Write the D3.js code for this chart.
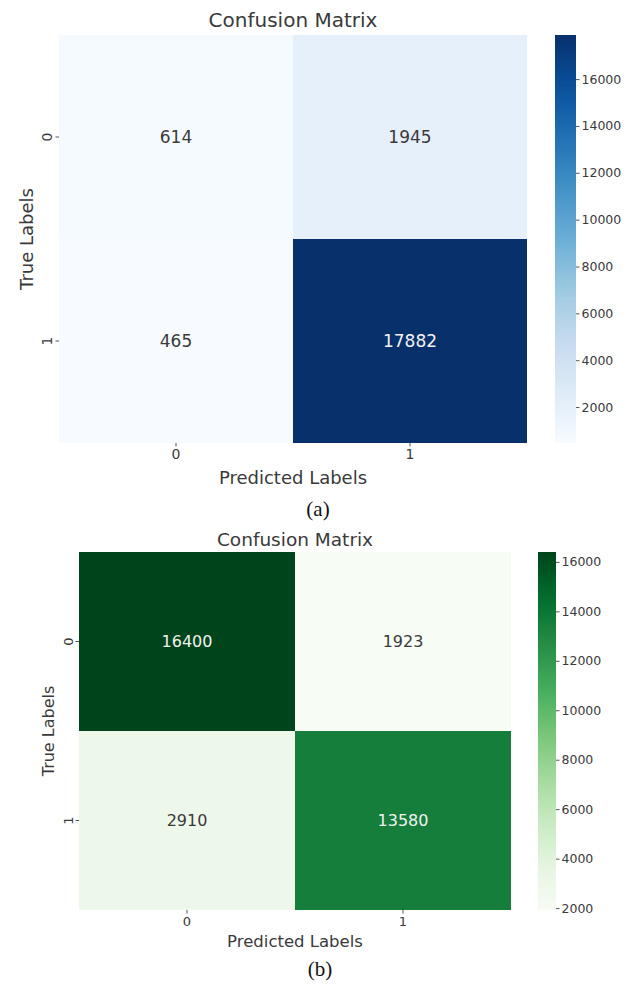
<!DOCTYPE html>
<html>
<head>
<meta charset="utf-8">
<script src="https://cdn.jsdelivr.net/npm/d3@7"></script>
<style>
  html, body { margin: 0; padding: 0; background: #fff; }
  svg { display: block; }
  text { font-family: "DejaVu Sans", sans-serif; fill: #3a3a3a; }
  .caption { font-family: "Liberation Serif", "Times New Roman", serif; fill: #111; }
</style>
</head>
<body>
<svg id="chart" width="636" height="986"></svg>
<script>
// Class labels shared by both matrices
const classLabels = ["0", "1"];

// Confusion matrix (a): rows = true label, columns = predicted label
const matrixA = [
  [614, 1945],
  [465, 17882]
];

// Confusion matrix (b)
const matrixB = [
  [16400, 1923],
  [2910, 13580]
];

// Colour bar tick values
const colorbarTicksA = [2000, 4000, 6000, 8000, 10000, 12000, 14000, 16000];
const colorbarTicksB = [2000, 4000, 6000, 8000, 10000, 12000, 14000, 16000];

const titleText = "Confusion Matrix";
const xLabelText = "Predicted Labels";
const yLabelText = "True Labels";

// Piecewise-linear colour maps through the 9-class ColorBrewer ramps
function rampScale(scheme, lo, hi) {
  const n = scheme.length;
  const stops = d3.range(n).map(i => lo + (hi - lo) * i / (n - 1));
  return d3.scaleLinear().domain(stops).range(scheme).interpolate(d3.interpolateRgb).clamp(true);
}

const svg = d3.select("#chart");
const defs = svg.append("defs");

function drawPanel(cfg) {
  const data = cfg.matrix;
  const flat = data.flat();
  const vmin = d3.min(flat), vmax = d3.max(flat);
  const color = rampScale(cfg.scheme, vmin, vmax);

  const x = d3.scaleBand().domain(classLabels).range([cfg.hx0, cfg.hx1]);
  const y = d3.scaleBand().domain(classLabels).range([cfg.hy0, cfg.hy1]);

  const g = svg.append("g");

  // cells
  const cells = [];
  data.forEach((row, i) => row.forEach((v, j) => cells.push({ r: classLabels[i], c: classLabels[j], v })));

  g.selectAll("rect.cell").data(cells).join("rect")
    .attr("class", "cell")
    .attr("x", d => x(d.c))
    .attr("y", d => y(d.r))
    .attr("width", x.bandwidth())
    .attr("height", y.bandwidth())
    .attr("fill", d => color(d.v));

  // annotations
  g.selectAll("text.annot").data(cells).join("text")
    .attr("class", "annot")
    .attr("x", d => x(d.c) + x.bandwidth() / 2)
    .attr("y", d => y(d.r) + y.bandwidth() / 2)
    .attr("text-anchor", "middle")
    .attr("dominant-baseline", "central")
    .style("font-size", cfg.annotSize + "px")
    .style("fill", d => (d.v - vmin) / (vmax - vmin) > 0.55 ? "#f2f2f2" : "#3a3a3a")
    .text(d => d.v);

  // x axis
  const xAxis = g.append("g")
    .attr("transform", `translate(0,${cfg.hy1})`)
    .call(d3.axisBottom(x).tickSize(3.5).tickPadding(3));
  xAxis.select(".domain").remove();
  xAxis.selectAll(".tick line").attr("stroke", "#555");
  xAxis.selectAll(".tick text")
    .style("font-size", cfg.tickSize + "px")
    .style("fill", "#3a3a3a")
    .attr("font-family", null);

  // y axis with rotated labels
  const yAxis = g.append("g")
    .attr("transform", `translate(${cfg.hx0},0)`)
    .call(d3.axisLeft(y).tickSize(3.5));
  yAxis.select(".domain").remove();
  yAxis.selectAll(".tick line").attr("stroke", "#555");
  yAxis.selectAll(".tick text")
    .attr("x", 0)
    .attr("y", -cfg.yTickOffset)
    .attr("dy", null)
    .attr("transform", "rotate(-90)")
    .attr("text-anchor", "middle")
    .attr("dominant-baseline", "central")
    .attr("font-family", null)
    .style("font-size", cfg.tickSize + "px")
    .style("fill", "#3a3a3a");

  // title
  g.append("text")
    .attr("x", (cfg.hx0 + cfg.hx1) / 2)
    .attr("y", cfg.titleY)
    .attr("text-anchor", "middle")
    .attr("dominant-baseline", "central")
    .style("font-size", cfg.titleSize + "px")
    .text(titleText);

  // axis labels
  g.append("text")
    .attr("x", (cfg.hx0 + cfg.hx1) / 2)
    .attr("y", cfg.xLabelY)
    .attr("text-anchor", "middle")
    .attr("dominant-baseline", "central")
    .style("font-size", cfg.labelSize + "px")
    .text(xLabelText);

  g.append("text")
    .attr("transform", `translate(${cfg.yLabelX},${(cfg.hy0 + cfg.hy1) / 2}) rotate(-90)`)
    .attr("text-anchor", "middle")
    .attr("dominant-baseline", "central")
    .style("font-size", cfg.yLabelSize + "px")
    .text(yLabelText);

  // colour bar
  const gradId = "grad-" + cfg.id;
  const grad = defs.append("linearGradient")
    .attr("id", gradId)
    .attr("x1", 0).attr("y1", 1).attr("x2", 0).attr("y2", 0);
  d3.range(0, 1.0001, 0.05).forEach(t => {
    grad.append("stop")
      .attr("offset", t)
      .attr("stop-color", color(vmin + t * (vmax - vmin)));
  });

  const cbScale = d3.scaleLinear().domain([vmin, vmax]).range([cfg.hy1, cfg.hy0]);
  g.append("rect")
    .attr("x", cfg.cbx0)
    .attr("y", cfg.hy0)
    .attr("width", cfg.cbx1 - cfg.cbx0)
    .attr("height", cfg.hy1 - cfg.hy0)
    .attr("fill", `url(#${gradId})`);

  const cbAxis = g.append("g")
    .attr("transform", `translate(${cfg.cbx1},0)`)
    .call(d3.axisRight(cbScale).tickValues(cfg.cbTicks).tickSize(3.5).tickPadding(2).tickFormat(d3.format("d")));
  cbAxis.select(".domain").remove();
  cbAxis.selectAll(".tick line").attr("stroke", "#555");
  cbAxis.selectAll(".tick text")
    .attr("font-family", null)
    .style("font-size", cfg.cbTickSize + "px")
    .style("fill", "#3a3a3a");

  // caption below the panel
  g.append("text")
    .attr("class", "caption")
    .attr("x", cfg.captionX)
    .attr("y", cfg.captionY)
    .attr("text-anchor", "middle")
    .attr("dominant-baseline", "central")
    .style("font-size", cfg.captionSize + "px")
    .style("font-family", "'Liberation Serif', 'Times New Roman', serif")
    .style("fill", "#111")
    .text(cfg.caption);
}

drawPanel({
  id: "a", matrix: matrixA, scheme: d3.schemeBlues[9], cbTicks: colorbarTicksA,
  hx0: 59, hx1: 527, hy0: 35, hy1: 443,
  cbx0: 555, cbx1: 576,
  titleY: 20, titleSize: 20,
  xLabelY: 477, labelSize: 18, yLabelX: 26, yLabelSize: 18,
  annotSize: 17, tickSize: 14, yTickOffset: 12, cbTickSize: 12.5,
  caption: "(a)", captionX: 318, captionY: 509, captionSize: 21
});

drawPanel({
  id: "b", matrix: matrixB, scheme: d3.schemeGreens[9], cbTicks: colorbarTicksB,
  hx0: 79, hx1: 511, hy0: 552, hy1: 910,
  cbx0: 538, cbx1: 556,
  titleY: 539, titleSize: 18.5,
  xLabelY: 941, labelSize: 16.5, yLabelX: 48, yLabelSize: 16,
  annotSize: 16, tickSize: 13, yTickOffset: 11, cbTickSize: 12.5,
  caption: "(b)", captionX: 320, captionY: 969, captionSize: 21
});
</script>
</body>
</html>
